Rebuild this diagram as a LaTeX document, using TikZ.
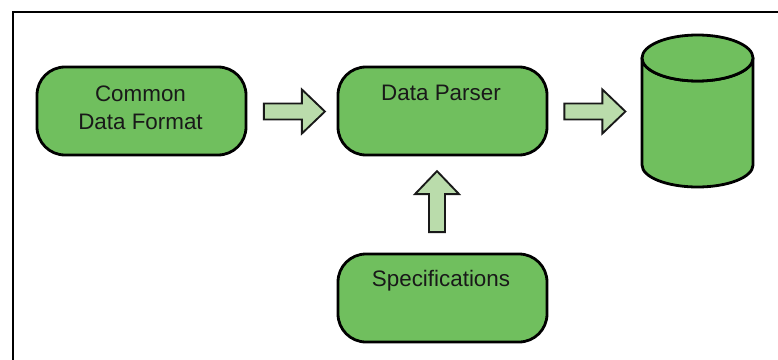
\documentclass[tikz,border=0pt]{standalone}
\usepackage{fontspec}
\setmainfont{Liberation Sans}
\usetikzlibrary{calc}
\definecolor{boxgreen}{HTML}{70BF5E}
\definecolor{arrowgreen}{HTML}{BADCAB}
\tikzset{
  x=0.75pt,y=-0.75pt,
  frameline/.style={draw=black,line width=2.1pt},
  procbox/.style={draw=black,fill=boxgreen,line width=2.1pt,rounded corners=21pt,minimum width=156.75pt,minimum height=66pt,inner sep=0pt},
  boxtext/.style={font=\fontsize{16.8pt}{21pt}\selectfont,align=center,text=black!90,inner sep=0pt},
  blockarrow/.style={draw=black!90,fill=arrowgreen,line width=1.4pt,line join=miter},
  cyl/.style={draw=black,fill=boxgreen,line width=2.1pt,line join=round}
}
\newcommand{\blockarrowat}[2]{%
  \draw[blockarrow,shift={(#1)},rotate=#2] (0,-8) -- (38,-8) -- (38,-22) -- (61,0) -- (38,22) -- (38,8) -- (0,8) -- cycle;}
\begin{document}
\begin{tikzpicture}
\useasboundingbox (0,0) rectangle (778,360);
\coordinate (fbl) at (13,365);
\coordinate (ftl) at (13,12);
\coordinate (ftr) at (783,12);
\draw[frameline] (fbl) -- (ftl) -- (ftr);
\node[procbox] (cdf) at (141.5,111) {};
\node[procbox] (parser) at (442.5,111) {};
\node[procbox] (spec) at (442.5,298) {};
\node[boxtext] (cdft) at (140.5,108) {Common\\Data Format};
\node[boxtext] (parsert) at (441,93) {Data Parser};
\node[boxtext] (spect) at (441,281) {Specifications};
% cylinder
\coordinate (dbl) at (642,58);
\coordinate (dbr) at (753,58);
\coordinate (dbbl) at (642,165);
\coordinate (dbbr) at (753,165);
\path[cyl] (dbl) -- (dbbl) arc[start angle=180,end angle=360,x radius=55.5,y radius=-22] -- (dbr) arc[start angle=0,end angle=-180,x radius=55.5,y radius=-23] -- cycle;
\path[cyl] (dbl) arc[start angle=180,end angle=-180,x radius=55.5,y radius=-23] -- cycle;
% arrows
\coordinate (a1) at ($(cdf.east)+(16.5,0.5)$);
\coordinate (a2) at ($(parser.east)+(16,0.5)$);
\coordinate (a3) at ($(spec.north)+(-5.5,-20.5)$);
\blockarrowat{a1}{0}
\blockarrowat{a2}{0}
\blockarrowat{a3}{90}
\end{tikzpicture}
\end{document}
